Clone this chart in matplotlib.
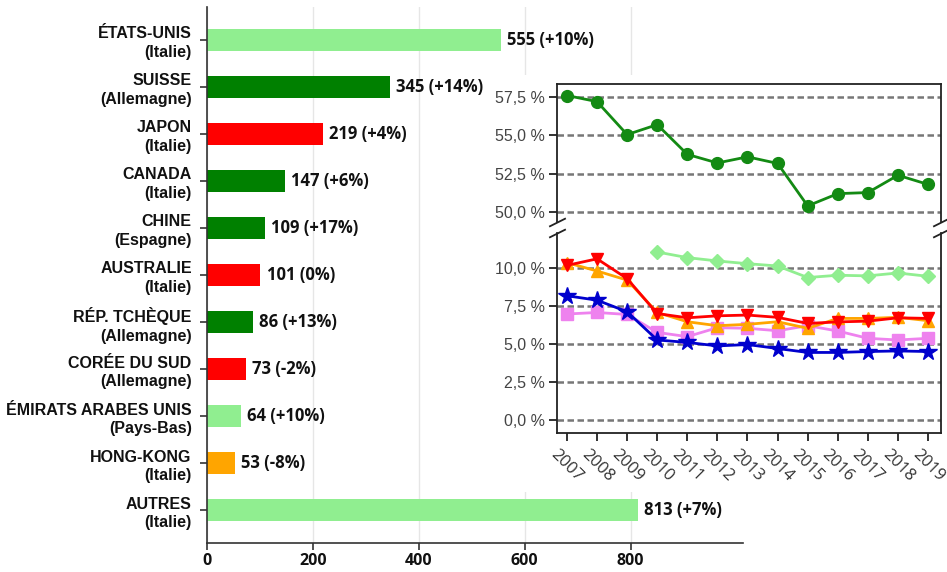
import matplotlib
matplotlib.use("Agg")
import matplotlib.pyplot as plt
from matplotlib.ticker import FuncFormatter, FixedLocator
import numpy as np

# ---------------- data ----------------
countries = ["ÉTATS-UNIS", "SUISSE", "JAPON", "CANADA", "CHINE", "AUSTRALIE",
             "RÉP. TCHÈQUE", "CORÉE DU SUD", "ÉMIRATS ARABES UNIS", "HONG-KONG", "AUTRES"]
leaders = ["Italie", "Allemagne", "Italie", "Italie", "Espagne", "Italie",
           "Allemagne", "Allemagne", "Pays-Bas", "Italie", "Italie"]
values = [555, 345, 219, 147, 109, 101, 86, 73, 64, 53, 813]
changes = ["+10%", "+14%", "+4%", "+6%", "+17%", "0%", "+13%", "-2%", "+10%", "-8%", "+7%"]
bar_colors = ["#90EE90", "#008000", "#FF0000", "#008000", "#008000", "#FF0000",
              "#008000", "#FF0000", "#90EE90", "#FFA500", "#90EE90"]
x_ticks = [0, 200, 400, 600, 800]

years = list(range(2007, 2020))
share_italie = [57.6, 57.2, 55.05, 55.7, 53.76, 53.2, 53.6, 53.17, 50.4, 51.2, 51.27, 52.4, 51.8]
share_paysbas = [np.nan, np.nan, np.nan, 11.05, 10.68, 10.46, 10.28, 10.13, 9.37, 9.52, 9.48, 9.67, 9.45]
share_violet = [6.97, 7.07, 6.94, 5.76, 5.48, 6.07, 6.03, 5.87, 6.2, 5.85, 5.37, 5.26, 5.37]
share_blue = [8.17, 7.88, 7.12, 5.26, 5.1, 4.87, 4.96, 4.7, 4.44, 4.44, 4.5, 4.54, 4.5]
share_orange = [10.35, 9.8, 9.2, 7.07, 6.46, 6.2, 6.29, 6.46, 6.03, 6.68, 6.68, 6.75, 6.53]
share_red = [10.17, 10.6, 9.3, 7.0, 6.72, 6.85, 6.9, 6.75, 6.35, 6.45, 6.5, 6.72, 6.68]
top_ticks = [50.0, 52.5, 55.0, 57.5]
bot_ticks = [0.0, 2.5, 5.0, 7.5, 10.0]

# ---------------- figure ----------------
W, H = 947, 572
fig = plt.figure(figsize=(W / 100, H / 100), dpi=100)

def fr(x0, y0, x1, y1):
    return [x0 / W, 1 - y1 / H, (x1 - x0) / W, (y1 - y0) / H]

ax = fig.add_axes(fr(207, 7, 743, 543))
ypos = np.arange(len(values))
ax.barh(ypos, values, height=0.47, color=bar_colors, zorder=2)
ax.set_ylim(len(values) - 1 + 0.7, -0.7)
ax.set_xlim(0, 1012)
ax.set_yticks(ypos)
ax.set_yticklabels([f"{c}\n({l})" for c, l in zip(countries, leaders)],
                   family="Liberation Sans", fontweight="bold", fontsize=11.5,
                   color="#111111", linespacing=1.3)
ax.set_xticks(x_ticks)
ax.set_xticklabels([str(t) for t in x_ticks], family="Open Sans",
                   fontweight="bold", fontsize=11.5, color="#111111")
for s in ["top", "right"]:
    ax.spines[s].set_visible(False)
for s in ["left", "bottom"]:
    ax.spines[s].set_color("#333333")
    ax.spines[s].set_linewidth(1.2)
ax.tick_params(axis="both", length=5, width=1.2, color="#333333")
ax.tick_params(axis="y", pad=6)
ax.tick_params(axis="x", pad=2)
ax.xaxis.grid(True, color="#e6e6e6", lw=1)
ax.set_axisbelow(True)
for y, v, c in zip(ypos, values, changes):
    ax.text(v + 12, y, f"{v} ({c})", va="center", ha="left", family="Open Sans",
            fontweight="bold", fontsize=12, color="#111111")

# white patch behind inset
bg = fig.add_axes(fr(488, 75, 947, 492))
bg.set_facecolor("white")
bg.set_xticks([])
bg.set_yticks([])
for s in bg.spines.values():
    s.set_visible(False)

# inset axes
ax_t = fig.add_axes(fr(557, 84, 941, 222))
ax_b = fig.add_axes(fr(557, 233, 941, 433))

fmt = FuncFormatter(lambda v, p: f"{v:.1f} %".replace(".", ","))
for a in (ax_t, ax_b):
    a.set_facecolor("white")
    a.set_xlim(2006.67, 2019.43)
    a.yaxis.set_major_formatter(fmt)
    a.yaxis.grid(True, color="#777777", lw=1.8, linestyle=(0, (2.6, 1.4)))
    a.set_axisbelow(True)
    for s in a.spines.values():
        s.set_linewidth(1.3)
        s.set_color("#222222")
    a.tick_params(axis="y", length=6, width=1.3, pad=3, labelsize=11.5, labelcolor="#444444",
                  color="#222222")

ax_t.set_ylim(49.35, 58.35)
ax_t.yaxis.set_major_locator(FixedLocator(top_ticks))
ax_t.spines["bottom"].set_visible(False)
ax_t.tick_params(axis="x", bottom=False, labelbottom=False)

ax_b.set_ylim(-0.86, 12.3)
ax_b.yaxis.set_major_locator(FixedLocator(bot_ticks))
ax_b.spines["top"].set_visible(False)
ax_b.set_xticks(years)
ax_b.set_xticklabels([str(y) for y in years], rotation=-45, ha="center", va="top",
                     family="Open Sans", fontsize=12, color="#333333")
ax_b.tick_params(axis="x", length=6, width=1.3, pad=4, color="#222222")

for a in (ax_t, ax_b):
    for lab in a.get_yticklabels():
        lab.set_family("Liberation Sans")

lw = 2
ax_t.plot(years, share_italie, color="#138a13", marker="o", ms=8.5, lw=lw)
ax_b.plot(years, share_paysbas, color="#90EE90", marker="D", ms=7, lw=lw)
ax_b.plot(years, share_violet, color="#EE82EE", marker="s", ms=8, lw=lw)
ax_b.plot(years, share_blue, color="#0000CD", marker="*", ms=13, lw=lw)
ax_b.plot(years, share_orange, color="#FFA500", marker="^", ms=9, lw=lw)
ax_b.plot(years, share_red, color="#FF0000", marker="v", ms=9, lw=lw)

d = 0.5
kw = dict(marker=[(-1, -d), (1, d)], markersize=12, linestyle="none",
          color="#222222", mec="#222222", mew=1.3, clip_on=False)
ax_t.plot([0, 1], [0, 0], transform=ax_t.transAxes, **kw)
ax_b.plot([0, 1], [1, 1], transform=ax_b.transAxes, **kw)

fig.savefig("out.png", dpi=100)
